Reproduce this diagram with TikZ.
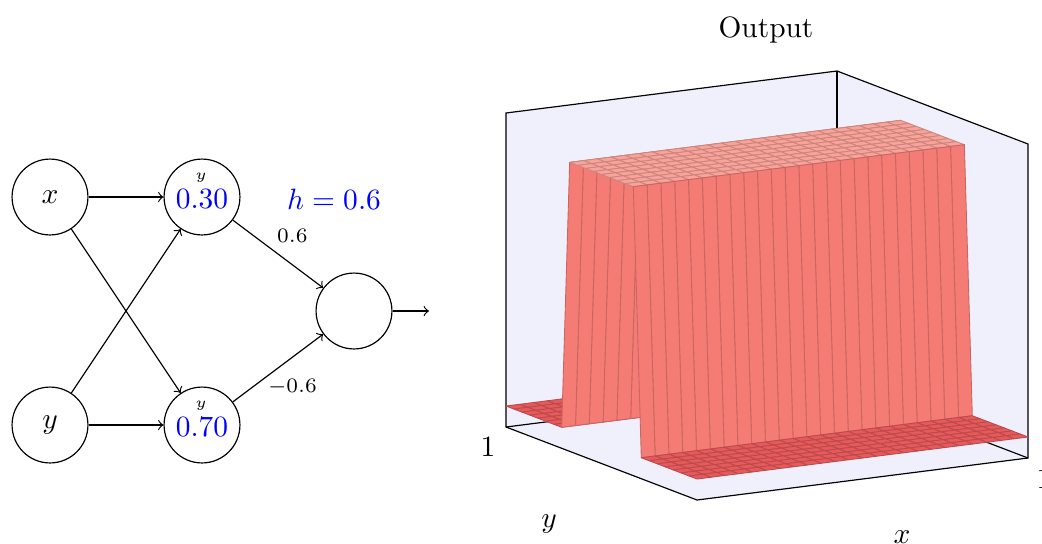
\documentclass[tikz,border=0pt]{standalone}
\usepackage{tikz}
\definecolor{bgl}{RGB}{239,240,252}
\definecolor{ctop}{RGB}{249,163,154}
\definecolor{cwall}{RGB}{244,124,117}
\definecolor{cfloor}{RGB}{230,90,92}
\begin{document}
\begin{tikzpicture}[x=0.34pt,y=-0.34pt,
  neuron/.style={circle,draw,minimum size=25.8pt,inner sep=0pt},
  wlbl/.style={font=\scriptsize},
  boxline/.style={line width=0.4pt},
  patch/.style={line width=0.3pt,line join=round}]
\useasboundingbox (0,0) rectangle (1042,543);

% ---------------- network ----------------
\node[neuron] (x) at (50,197) {$x$};
\node[neuron] (y) at (50,425) {$y$};
\node[neuron] (h1) at (202,197) {};
\node[neuron] (h2) at (202,425) {};
\node[neuron] (o) at (354,311) {};
\coordinate (oend) at (429,311);
\node[anchor=base,text=blue,inner sep=0pt] (h1v) at (202,208) {$0.30$};
\node[anchor=base,font=\tiny,inner sep=0pt] (h1l) at (201,179) {$y$};
\node[anchor=base,text=blue,inner sep=0pt] (h2v) at (202,436) {$0.70$};
\node[anchor=base,font=\tiny,inner sep=0pt] (h2l) at (201,407) {$y$};
\node[anchor=base,text=blue,inner sep=0pt] (hval) at (334,209) {$h = 0.6$};

\draw[->] (x) -- (h1);
\draw[->] (x) -- (h2);
\draw[->] (y) -- (h1);
\draw[->] (y) -- (h2);
\draw[->] (h1) -- node[pos=0.66,above=4pt,wlbl] {$0.6$} (o);
\draw[->] (h2) -- node[pos=0.66,below=4pt,wlbl] {$-0.6$} (o);
\draw[->] (o) -- (oend);

% ---------------- 3D plot ----------------
\begin{scope}[shift={(697,500)}, x={(112.54pt,14.28pt)}, y={(-64.94pt,24.82pt)}, z={(0pt,0.34pt)}]
  \coordinate (A) at (0,0,0);
  \coordinate (B) at (1,0,0);
  \coordinate (C) at (1,1,0);
  \coordinate (D) at (0,1,0);
  \coordinate (Bt) at (1,0,314);
  \coordinate (Ct) at (1,1,314);
  \coordinate (Dt) at (0,1,314);
  \fill[bgl] (D) -- (Dt) -- (Ct) -- (Bt) -- (B) -- (A) -- cycle;
  \draw[boxline] (D) -- (Dt) -- (Ct) -- (Bt) -- (B) -- (A) -- cycle;
  \draw[boxline] (Ct) -- (C);
  \draw[boxline] (D) -- (C) -- (B);
  % surface
  \foreach \j in {23,...,0}{
    \pgfmathtruncatemacro\ha{(\j>7)*(\j<17)}
    \pgfmathtruncatemacro\hb{(\j>6)*(\j<16)}
    \pgfmathsetmacro\za{21+268*\ha}
    \pgfmathsetmacro\zb{21+268*\hb}
    \pgfmathtruncatemacro\k{\ha+\hb}
    \edef\cc{\ifcase\k cfloor\or cwall\else ctop\fi}
    \pgfmathsetmacro\ya{\j/24}
    \pgfmathsetmacro\yb{(\j+1)/24}
    \foreach \i in {23,...,0}{
      \pgfmathsetmacro\xa{\i/24}
      \pgfmathsetmacro\xb{(\i+1)/24}
      \filldraw[patch,fill=\cc,draw=\cc!82!black]
        (\xa,\ya,\za) -- (\xb,\ya,\za) -- (\xb,\yb,\zb) -- (\xa,\yb,\zb) -- cycle;
    }
  }
\end{scope}

\node[anchor=base] (title) at (766,37) {Output};
\node (ytick) at (488,447) {$1$};
\node (xtick) at (1044,479) {$1$};
\node[anchor=base,inner sep=0pt] (ylab) at (549,527) {$y$};
\node[anchor=base,inner sep=0pt] (xlab) at (902,543) {$x$};
\end{tikzpicture}
\end{document}
